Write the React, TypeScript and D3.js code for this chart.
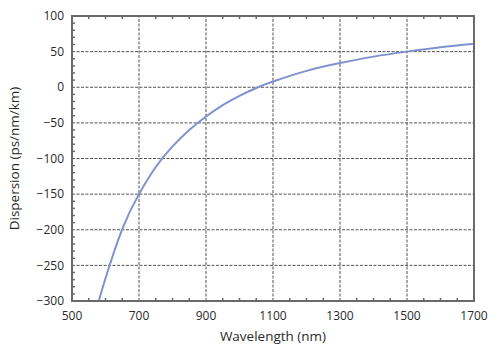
import React from "react";
import * as d3 from "d3";

const wavelengths = [580, 600, 650, 700, 750, 800, 850, 900, 950, 1000, 1050, 1100, 1200, 1300, 1400, 1500, 1600, 1700];
const dispersion = [-300, -268, -199, -150, -112, -83, -60, -41, -25, -12, -1, 8, 23, 34, 43, 50, 56, 61];
const xTicks = [500, 700, 900, 1100, 1300, 1500, 1700];
const yTicks = [100, 50, 0, -50, -100, -150, -200, -250, -300];

const W = 500, H = 360;
const M = { left: 72, right: 26, top: 16, bottom: 59 };
const FONT = "'Open Sans', 'Noto Sans', sans-serif";

export default function App() {
  const x = d3.scaleLinear().domain([500, 1700]).range([M.left, W - M.right]);
  const y = d3.scaleLinear().domain([-300, 100]).range([H - M.bottom, M.top]);
  const data = wavelengths.map((w, i) => [w, dispersion[i]] as [number, number]);
  const line = d3.line<[number, number]>().x(d => x(d[0])).y(d => y(d[1])).curve(d3.curveNatural);
  const xMinor = d3.range(550, 1700, 50).filter(v => v % 200 !== 100);
  const yMinor = d3.range(-290, 100, 10).filter(v => v % 50 !== 0);
  const [x0, x1] = x.range();
  const [y0, y1] = y.range();
  const frame = "#6a6a6a";
  return (
    <svg width={W} height={H} style={{ position: "absolute", left: 0, top: 0 }}>
      <rect x={0} y={0} width={W} height={H} fill="#fff" />
      <g stroke="#505050" strokeWidth={1} strokeDasharray="3,1.5">
        {xTicks.slice(1, -1).map(t => (
          <line key={"gx" + t} x1={x(t)} x2={x(t)} y1={y0} y2={y1} />
        ))}
        {yTicks.slice(1, -1).map(t => (
          <line key={"gy" + t} x1={x0} x2={x1} y1={y(t)} y2={y(t)} />
        ))}
      </g>
      <g stroke={frame} strokeWidth={1.5}>
        {xMinor.map(t => (
          <g key={"mx" + t}>
            <line x1={x(t)} x2={x(t)} y1={y0} y2={y0 - 3} />
            <line x1={x(t)} x2={x(t)} y1={y1} y2={y1 + 3} />
          </g>
        ))}
        {yMinor.map(t => (
          <line key={"my" + t} x1={x0} x2={x0 + 3} y1={y(t)} y2={y(t)} />
        ))}
      </g>
      <path d={line(data) || ""} fill="none" stroke="#7f92cf" strokeWidth={2} />
      <rect x={x0} y={y1} width={x1 - x0} height={y0 - y1} fill="none" stroke={frame} strokeWidth={2} />
      <g fontFamily={FONT} fontSize={12} fill="#2a2a2a">
        {yTicks.map(t => (
          <text key={"ty" + t} x={x0 - 8} y={y(t)} dy="0.35em" textAnchor="end">
            {t < 0 ? "\u2212" + Math.abs(t) : String(t)}
          </text>
        ))}
        {xTicks.map(t => (
          <text key={"tx" + t} x={x(t)} y={y0 + 19} textAnchor="middle">{t}</text>
        ))}
      </g>
      <text x={(x0 + x1) / 2} y={341} textAnchor="middle" fontFamily={FONT} fontSize={13.5} fill="#2a2a2a">
        Wavelength (nm)
      </text>
      <text transform={`translate(19, ${(y0 + y1) / 2}) rotate(-90)`} textAnchor="middle" fontFamily={FONT} fontSize={13.5} fill="#2a2a2a">
        Dispersion (ps/nm/km)
      </text>
    </svg>
  );
}
